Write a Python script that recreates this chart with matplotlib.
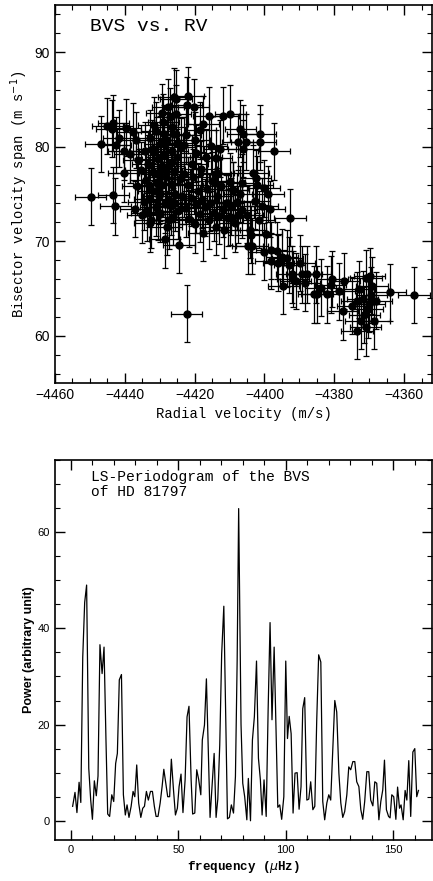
import matplotlib
matplotlib.use("Agg")
import matplotlib.pyplot as plt
from matplotlib.ticker import MultipleLocator

# BVS vs RV points
rv = [-4449.8, -4446.9, -4445.0, -4443.3, -4443.8, -4443.3, -4442.7, -4442.6, -4441.7, -4440.3,
      -4439.8, -4440.3, -4437.6, -4436.8, -4436.4, -4436.1, -4435.4, -4434.2, -4438.5, -4437.0,
      -4434.0, -4433.5, -4433.0, -4432.8, -4432.5, -4432.0, -4431.8, -4431.5, -4431.2, -4431.0,
      -4430.7, -4430.5, -4430.2, -4430.0, -4429.8, -4429.5, -4429.3, -4429.0, -4428.8, -4428.5,
      -4428.3, -4428.0, -4427.8, -4427.5, -4427.3, -4427.0, -4426.8, -4426.5, -4426.3, -4426.0,
      -4425.8, -4425.5, -4425.3, -4425.0, -4424.8, -4424.5, -4424.3, -4424.0, -4433.7, -4432.3,
      -4430.9, -4429.9, -4428.9, -4428.1, -4427.2, -4426.4, -4425.6, -4431.6, -4429.4, -4427.6,
      -4426.6, -4433.2, -4434.5, -4435.0, -4432.9, -4430.4, -4428.6, -4426.9,
      -4423.5, -4423.0, -4422.5, -4422.0, -4421.5, -4421.0, -4420.5, -4420.0, -4419.5, -4419.0,
      -4418.5, -4418.0, -4417.5, -4417.0, -4416.5, -4416.0, -4415.5, -4415.0, -4414.5, -4414.0,
      -4413.5, -4413.0, -4412.5, -4412.0, -4411.5, -4411.0, -4410.5, -4410.0, -4409.5, -4409.0,
      -4408.5, -4408.0, -4407.5, -4407.0, -4406.5, -4420.8, -4418.2, -4416.8, -4414.2,
      -4425.9, -4425.4, -4421.8, -4422.3, -4420.3, -4416.0, -4417.5, -4418.4, -4411.9, -4409.8,
      -4424.7, -4423.0, -4420.0, -4413.8, -4412.7, -4413.2, -4406.9, -4406.2, -4407.7, -4406.0,
      -4405.2, -4401.2, -4401.2, -4397.3, -4422.6, -4419.6, -4415.2,
      -4406.4, -4403.2, -4402.5, -4402.0, -4400.1, -4399.0, -4400.6, -4398.5, -4405.0, -4409.0,
      -4410.3, -4409.8, -4404.0, -4403.8, -4404.8, -4403.6, -4400.1, -4398.0, -4398.2, -4392.7,
      -4396.0, -4393.4, -4392.9, -4394.6, -4392.2, -4389.9, -4391.1, -4389.2, -4387.9, -4385.8,
      -4384.9, -4385.3, -4383.9, -4382.0, -4381.0, -4380.7, -4378.6, -4377.6, -4377.1, -4373.5,
      -4373.5, -4372.3, -4371.4, -4370.9, -4369.9, -4369.4, -4370.4, -4369.2, -4368.0, -4368.5,
      -4364.0, -4357.2, -4371.9, -4422.3, -4401.5, -4402.8, -4399.5, -4396.5, -4395.0, -4391.8,
      -4388.5, -4374.8, -4372.8, -4371.0, -4370.0]
bvs = [74.7, 80.3, 82.2, 82.5, 81.9, 74.9, 73.7, 80.2, 80.9, 77.2,
       82.0, 79.5, 81.6, 80.7, 75.8, 78.6, 77.5, 79.6, 79.2, 73.4,
       76.5, 78.2, 74.5, 80.9, 72.3, 77.3, 75.3, 79.4, 73.6, 81.7,
       76.2, 78.7, 74.8, 80.3, 72.9, 77.8, 75.9, 82.6, 79.1, 73.9,
       76.8, 71.5, 80.7, 78.0, 74.4, 83.2, 76.1, 79.6, 72.6, 81.3,
       77.3, 75.0, 85.1, 78.9, 73.2, 69.6, 76.6, 80.0, 73.0, 79.8,
       77.1, 75.1, 81.4, 77.4, 72.2, 78.4, 74.1, 82.3, 83.6, 84.2,
       82.1, 75.9, 74.2, 72.8, 71.9, 73.1, 70.2, 73.7,
       74.8, 77.1, 73.5, 75.9, 72.4, 74.6, 76.8, 71.8, 73.9, 75.3,
       72.9, 74.4, 70.9, 73.6, 75.5, 72.2, 74.1, 76.4, 73.0, 71.5,
       74.8, 72.7, 75.8, 73.4, 71.2, 74.0, 72.5, 76.3, 73.7, 75.4,
       71.9, 74.2, 72.8, 75.0, 73.3, 78.2, 77.6, 78.9, 77.1,
       85.3, 83.5, 85.4, 84.4, 84.2, 83.3, 82.4, 81.75, 83.3, 83.5,
       80.35, 80.2, 80.7, 78.8, 79.8, 77.2, 81.9, 81.4, 80.5, 79.8,
       80.5, 81.4, 80.5, 79.5, 81.2, 79.3, 80.1,
       76.2, 77.2, 76.7, 76.0, 75.6, 75.0, 73.7, 73.4, 72.8, 75.4,
       74.0, 72.6, 71.2, 70.7, 69.5, 69.5, 68.9, 69.05, 67.9, 72.5,
       67.7, 68.2, 67.5, 65.3, 66.5, 67.7, 65.8, 66.5, 66.5, 64.4,
       64.4, 66.5, 65.1, 64.4, 65.4, 66.0, 64.7, 62.6, 65.8, 60.5,
       63.7, 61.6, 62.2, 66.1, 66.3, 64.3, 62.8, 65.3, 63.7, 61.6,
       64.6, 64.3, 63.9, 62.35, 72.3, 74.3, 70.8, 69.0, 68.3, 66.0,
       65.6, 63.2, 64.9, 60.9, 63.4]
rv_err = 4.5
bvs_err = 3.0

# periodogram
freq = [0.9, 2.0, 2.9, 3.9, 4.7, 5.6, 6.5, 7.4, 8.4, 9.3, 10.1, 11.0, 11.9, 12.7, 13.6, 14.6,
        15.5, 16.4, 17.2, 18.1, 19.1, 20.0, 20.9, 21.7, 22.6, 23.6, 24.5, 25.4, 26.2, 27.1,
        28.1, 29.0, 29.8, 30.7, 31.6, 32.6, 33.5, 34.3, 35.2, 36.1, 37.1, 38.0, 38.9, 39.7,
        40.6, 41.6, 42.5, 43.3, 44.2, 45.1, 46.0, 46.8, 47.8, 48.7, 49.6, 50.4, 51.3, 52.2,
        53.2, 54.1, 55.0, 56.0, 56.7, 57.7, 58.6, 59.5, 60.5, 61.2, 62.2, 63.1, 64.0, 64.8,
        65.7, 66.7, 67.6, 68.4, 69.3, 70.2, 71.2, 72.1, 72.9, 73.8, 74.7, 75.7, 76.6, 77.4,
        78.1, 79.2, 80.0, 80.9, 81.9, 82.6, 83.6, 84.5, 85.4, 86.4, 87.3, 88.2, 89.0, 89.9,
        90.9, 91.8, 92.7, 93.6, 94.6, 95.5, 96.3, 97.2, 98.1, 99.1, 100.0, 100.8, 101.6,
        102.5, 103.4, 104.3, 105.3, 106.2, 107.1, 107.9, 108.8, 109.8, 110.7, 111.6, 112.6,
        113.5, 114.4, 115.3, 116.3, 117.2, 118.1, 119.1, 120.0, 120.9, 121.9, 122.8, 123.7,
        124.7, 125.6, 126.5, 127.4, 128.4, 129.3, 130.2, 131.2, 132.1, 133.0, 134.0, 134.9,
        135.8, 136.7, 137.7, 138.6, 139.5, 140.5, 141.4, 142.3, 143.3, 144.2, 145.1, 145.9,
        146.8, 147.8, 148.5, 149.3, 150.2, 151.2, 152.0, 152.9, 153.6, 154.6, 155.5, 156.3,
        157.2, 158.1, 159.1, 160.0, 160.9, 161.7]
power = [3.0, 5.9, 1.7, 8.0, 3.8, 34.0, 45.4, 49.0, 10.9, 4.3, 0.3, 8.3, 5.2, 9.3, 36.6, 30.6,
         36.1, 16.8, 1.4, 0.9, 5.4, 4.0, 11.9, 14.0, 29.3, 30.4, 5.4, 1.2, 3.3, 0.7,
         3.0, 6.1, 5.0, 11.6, 3.7, 0.7, 2.6, 3.0, 6.1, 4.3, 6.1, 6.1, 3.0, 0.9,
         0.9, 3.7, 7.1, 10.7, 7.8, 5.0, 5.0, 12.8, 6.4, 1.2, 2.6, 7.1, 9.7, 1.7,
         8.5, 21.6, 23.8, 8.5, 1.4, 1.6, 10.6, 8.6, 5.4, 16.8, 19.9, 29.5, 14.7, 0.7,
         6.9, 14.0, 0.7, 4.5, 15.7, 34.7, 44.6, 20.9, 0.4, 0.7, 3.3, 1.6, 9.2, 33.3,
         64.9, 20.0, 7.8, 5.0, 0.2, 8.8, 0.0, 16.8, 21.6, 33.2, 13.0, 8.5, 1.2, 8.5,
         0.9, 23.0, 41.2, 21.0, 36.1, 18.1, 2.8, 3.3, 0.3, 5.0, 33.2, 17.1, 21.7,
         18.1, 1.6, 9.9, 10.0, 2.4, 7.1, 23.3, 25.6, 4.3, 4.5, 8.1, 2.3,
         3.0, 20.9, 34.5, 33.0, 4.0, 0.2, 3.7, 5.4, 4.3, 15.0, 25.0, 22.6,
         9.9, 3.7, 0.7, 1.9, 5.4, 11.2, 10.6, 12.3, 12.3, 8.1, 7.1, 2.3,
         0.3, 4.0, 10.2, 10.2, 4.3, 3.1, 8.1, 7.8, 0.2, 4.0, 6.4, 12.6,
         2.3, 0.9, 0.6, 5.4, 5.0, 0.3, 7.0, 2.6, 3.3, 0.2, 6.3, 4.3,
         12.5, 0.9, 14.3, 15.0, 5.0, 6.3]

mono = ['Liberation Mono', 'DejaVu Sans Mono']
sans = ['Liberation Sans', 'DejaVu Sans']

fig = plt.figure(figsize=(4.33, 8.81), dpi=100)
ax1 = fig.add_axes([55 / 433, 1 - 383 / 881, 377 / 433, 378 / 881])
ax2 = fig.add_axes([55 / 433, 1 - 840 / 881, 377 / 433, 380 / 881])

ax1.errorbar(rv, bvs, xerr=rv_err, yerr=bvs_err, fmt='o', color='black',
             ecolor='black', elinewidth=0.9, capsize=2, capthick=0.9, markersize=5)
ax1.set_xlim(-4460, -4352)
ax1.set_ylim(55, 95)
ax1.xaxis.set_major_locator(MultipleLocator(20))
ax1.xaxis.set_minor_locator(MultipleLocator(5))
ax1.yaxis.set_major_locator(MultipleLocator(10))
ax1.yaxis.set_minor_locator(MultipleLocator(2))
ax1.set_xlabel('Radial velocity (m/s)', family=mono, fontsize=10, labelpad=4)
ax1.set_ylabel('Bisector velocity span (m s$^{-1}$)', family=mono, fontsize=10, labelpad=3)
ax1.text(0.093, 0.965, 'BVS vs. RV', transform=ax1.transAxes, family=mono,
         fontsize=14, va='top', ha='left')

ax2.plot(freq, power, color='black', linewidth=0.9)
ax2.set_xlim(-7.3, 168)
ax2.set_ylim(-4, 75)
ax2.xaxis.set_major_locator(MultipleLocator(50))
ax2.xaxis.set_minor_locator(MultipleLocator(10))
ax2.yaxis.set_major_locator(MultipleLocator(20))
ax2.yaxis.set_minor_locator(MultipleLocator(5))
ax2.set_xlabel('frequency ($\\mu$Hz)', family=mono, fontsize=9, fontweight='bold', labelpad=3)
ax2.set_ylabel('Power (arbitrary unit)', family=sans, fontsize=9, fontweight='bold', labelpad=2)
ax2.text(0.095, 0.975, 'LS-Periodogram of the BVS\nof HD 81797', transform=ax2.transAxes,
         family=mono, fontsize=10.5, va='top', ha='left', linespacing=1.1)

for ax, fs in ((ax1, 10), (ax2, 8)):
    for s in ax.spines.values():
        s.set_linewidth(1.2)
    ax.tick_params(which='both', direction='in', top=True, right=True)
    ax.tick_params(which='major', length=7, width=1, labelsize=fs)
    ax.tick_params(which='minor', length=3.5, width=0.8)
    for lab in ax.get_xticklabels() + ax.get_yticklabels():
        lab.set_family(sans)

fig.savefig('out.png', dpi=100)
